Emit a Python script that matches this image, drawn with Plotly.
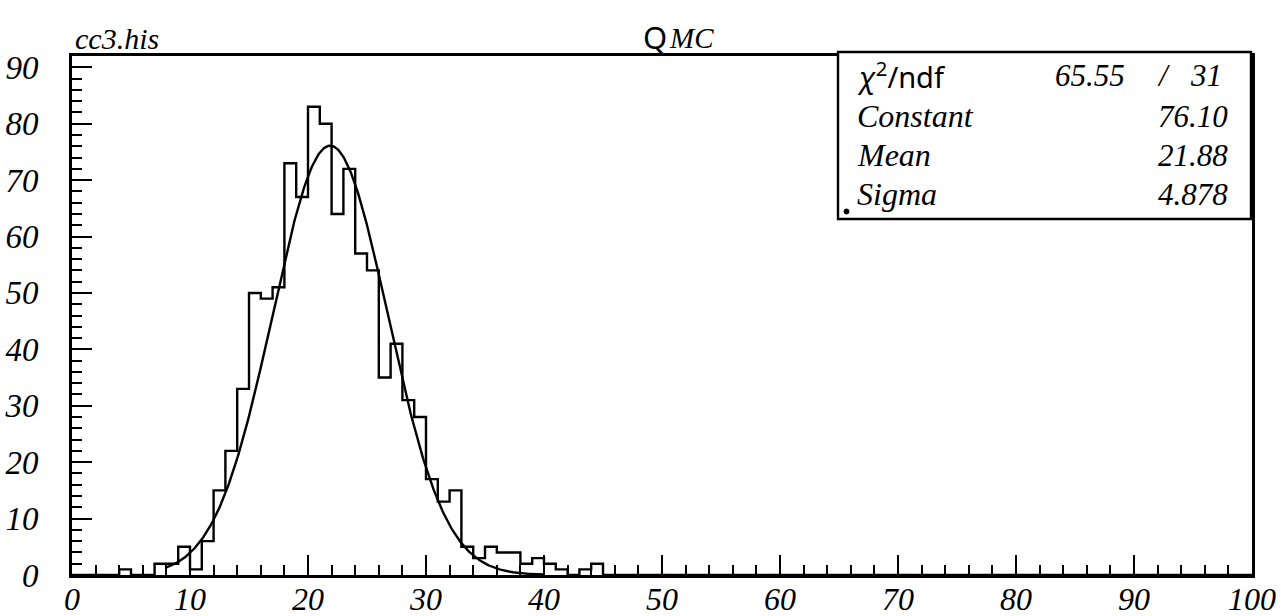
import numpy as np
import plotly.graph_objects as go

# Histogram cc3.his : 100 bins of width 1 on [0, 100]
n_bins = 100
x_min, x_max = 0.0, 100.0
filled_bins = list(range(4, 45))
bin_counts = [1, 0, 0, 2, 2, 5, 1, 6, 15, 22,
              33, 50, 49, 51, 73, 67, 83, 80, 64, 72,
              57, 54, 35, 41, 31, 28, 17, 13, 15, 5,
              3, 5, 4, 4, 2, 3, 2, 1, 0, 1,
              2]

# Gaussian fit results (stats box)
fit_chi2, fit_ndf = 65.55, 31
fit_constant, fit_mean, fit_sigma = 76.10, 21.88, 4.878
fit_range = (8.0, 40.0)

x_ticks = [0, 10, 20, 30, 40, 50, 60, 70, 80, 90, 100]
y_ticks = [0, 10, 20, 30, 40, 50, 60, 70, 80, 90]

contents = np.zeros(n_bins)
for b, c in zip(filled_bins, bin_counts):
    contents[b] = c
edges = np.linspace(x_min, x_max, n_bins + 1)
step_y = np.append(contents, contents[-1])

xf = np.linspace(fit_range[0], fit_range[1], 400)
yf = fit_constant * np.exp(-0.5 * ((xf - fit_mean) / fit_sigma) ** 2)

fig = go.Figure()
fig.add_trace(go.Scatter(x=edges, y=step_y, mode="lines", line_shape="hv",
                         line=dict(color="black", width=2.4), hoverinfo="skip"))
fig.add_trace(go.Scatter(x=xf, y=yf, mode="lines",
                         line=dict(color="black", width=2.4), hoverinfo="skip"))

W, H = 1281, 616
L, R, T, B = 72, 29, 56, 41
pw, ph = W - L - R, H - T - B


def px(xp):
    return (xp - L) / pw


def py(yp):
    return (H - B - yp) / ph


serif = "Liberation Serif"
sans = "Noto Sans"

axis_common = dict(showline=True, linecolor="black", linewidth=2.6, mirror=True,
                   showgrid=False, zeroline=False, ticks="inside", ticklen=20,
                   tickwidth=2, tickcolor="black", automargin=False)

fig.update_xaxes(range=[x_min, x_max], tickvals=x_ticks,
                 tickfont=dict(family=serif, size=32, color="black", style="italic"),
                 minor=dict(dtick=2, tick0=0, ticks="inside", ticklen=10,
                            tickwidth=2, tickcolor="black"),
                 ticklabelstandoff=-6, **axis_common)
fig.update_yaxes(range=[0, 92], tickvals=y_ticks,
                 tickfont=dict(family=serif, size=33, color="black", style="italic"),
                 minor=dict(dtick=2, tick0=0, ticks="inside", ticklen=10,
                            tickwidth=2, tickcolor="black"),
                 ticklabelstandoff=24, **axis_common)

annotations = [
    dict(text="cc3.his", x=px(73), y=py(39), xanchor="left", yanchor="middle",
         font=dict(family=serif, size=30, style="italic")),
    dict(text="Q", x=px(669), y=py(37), xanchor="right", yanchor="middle",
         font=dict(family=sans, size=31)),
    dict(text="MC", x=px(667), y=py(38), xanchor="left", yanchor="middle",
         font=dict(family=serif, size=29, style="italic")),
    # stats box rows
    dict(text="<i>χ</i><sup>2</sup>/ndf", x=px(855), y=py(75), xanchor="left",
         yanchor="middle", font=dict(family=sans, size=29)),
    dict(text=f"{fit_chi2:.2f}", x=px(1127), y=py(75), xanchor="right", yanchor="middle",
         font=dict(family=serif, size=31, style="italic")),
    dict(text="/", x=px(1163), y=py(75), xanchor="center", yanchor="middle",
         font=dict(family=serif, size=31, style="italic")),
    dict(text=f"{fit_ndf}", x=px(1224), y=py(75), xanchor="right", yanchor="middle",
         font=dict(family=serif, size=31, style="italic")),
]
for label, value, yrow in [("Constant", f"{fit_constant:.2f}", 116),
                           ("Mean", f"{fit_mean:.2f}", 155),
                           ("Sigma", f"{fit_sigma:.3f}", 194)]:
    annotations.append(dict(text=label, x=px(855), y=py(yrow), xanchor="left",
                            yanchor="middle",
                            font=dict(family=serif, size=32, style="italic")))
    annotations.append(dict(text=value, x=px(1230), y=py(yrow), xanchor="right",
                            yanchor="middle",
                            font=dict(family=serif, size=31, style="italic")))
for a in annotations:
    a.update(xref="paper", yref="paper", showarrow=False)
    a["font"].setdefault("color", "black")

shapes = [
    dict(type="rect", xref="paper", yref="paper", x0=px(838), x1=px(1251),
         y0=py(219), y1=py(52), line=dict(color="black", width=2.4),
         fillcolor="white", layer="above"),
    dict(type="circle", xref="paper", yref="paper", x0=px(844), x1=px(849),
         y0=py(214), y1=py(209), line=dict(color="black", width=1),
         fillcolor="black", layer="above"),
]

fig.update_layout(width=W, height=H, margin=dict(l=L, r=R, t=T, b=B),
                  plot_bgcolor="white", paper_bgcolor="white", showlegend=False,
                  annotations=annotations, shapes=shapes)

fig.write_html("out.html")
